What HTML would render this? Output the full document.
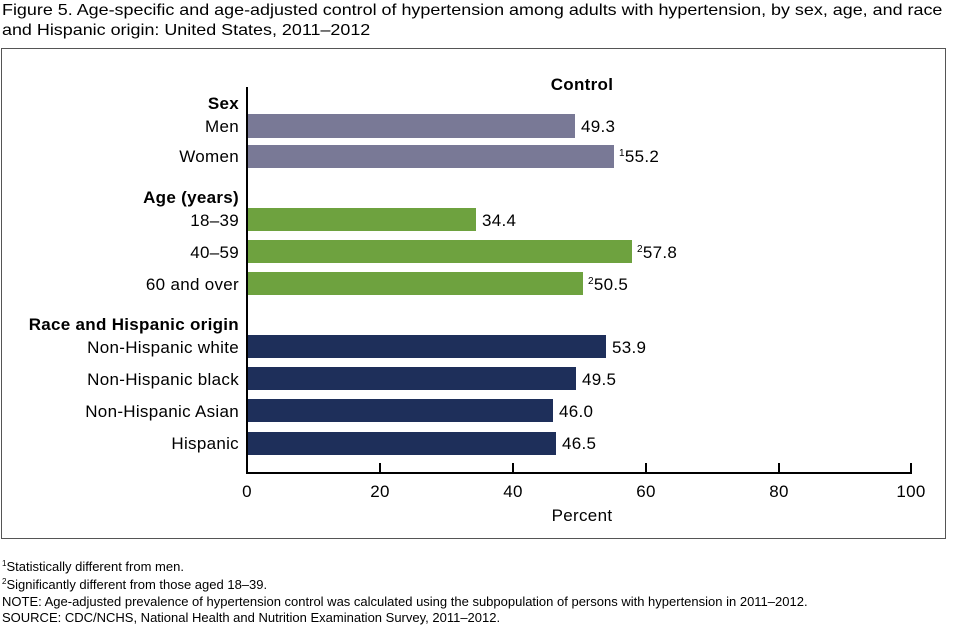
<!DOCTYPE html>
<html><head><style>
body{margin:0;width:960px;height:626px;background:#fff;font-family:"Liberation Sans",Arial,sans-serif;position:relative;overflow:hidden}
.t{position:absolute;white-space:nowrap;color:#000}
.s{font-size:8px;position:relative;top:-5px}
</style></head><body>
<div class="t" style="left:2px;top:1px;font-size:16px;line-height:20px;transform:scaleX(1.12);transform-origin:0 0">Figure 5. Age-specific and age-adjusted control of hypertension among adults with hypertension, by sex, age, and race<br>and Hispanic origin: United States, 2011–2012</div>
<svg width="960" height="626" style="position:absolute;left:0;top:0" font-family="Liberation Sans, Arial, sans-serif">
<rect x="1.5" y="48.5" width="944" height="490" fill="none" stroke="#555" stroke-width="1"/>
<g font-size="17" letter-spacing="0.3">
<text x="582" y="90" font-weight="bold" text-anchor="middle">Control</text>
<g text-anchor="end">
<text x="239" y="109" font-weight="bold">Sex</text>
<text x="239" y="132">Men</text>
<text x="239" y="162">Women</text>
<text x="239" y="203" font-weight="bold">Age (years)</text>
<text x="239" y="226">18–39</text>
<text x="239" y="258">40–59</text>
<text x="239" y="290">60 and over</text>
<text x="239" y="330" font-weight="bold">Race and Hispanic origin</text>
<text x="239" y="353">Non-Hispanic white</text>
<text x="239" y="385">Non-Hispanic black</text>
<text x="239" y="417">Non-Hispanic Asian</text>
<text x="239" y="449">Hispanic</text>
</g>
</g>
<g>
<rect x="248" y="114" width="327" height="24" fill="#797996"/>
<rect x="248" y="145" width="366" height="23" fill="#797996"/>
<rect x="248" y="208" width="228" height="23" fill="#6ea23f"/>
<rect x="248" y="240" width="384" height="23" fill="#6ea23f"/>
<rect x="248" y="272" width="335" height="23" fill="#6ea23f"/>
<rect x="248" y="335" width="358" height="23" fill="#1e2f5a"/>
<rect x="248" y="367" width="328" height="23" fill="#1e2f5a"/>
<rect x="248" y="399" width="305" height="23" fill="#1e2f5a"/>
<rect x="248" y="432" width="308" height="23" fill="#1e2f5a"/>
</g>
<g font-size="17" letter-spacing="0.3">
<text x="581" y="132">49.3</text>
<text x="619" y="162"><tspan font-size="10" dy="-6">1</tspan><tspan dy="6">55.2</tspan></text>
<text x="482" y="226">34.4</text>
<text x="637" y="258"><tspan font-size="10" dy="-6">2</tspan><tspan dy="6">57.8</tspan></text>
<text x="588" y="290"><tspan font-size="10" dy="-6">2</tspan><tspan dy="6">50.5</tspan></text>
<text x="612" y="353">53.9</text>
<text x="582" y="385">49.5</text>
<text x="559" y="417">46.0</text>
<text x="562" y="449">46.5</text>
</g>
<line x1="247" y1="87" x2="247" y2="474" stroke="#000" stroke-width="2"/>
<line x1="246" y1="473" x2="912" y2="473" stroke="#000" stroke-width="2"/>
<g stroke="#000" stroke-width="2">
<line x1="380" y1="463" x2="380" y2="473"/><line x1="513" y1="463" x2="513" y2="473"/>
<line x1="646" y1="463" x2="646" y2="473"/><line x1="779" y1="463" x2="779" y2="473"/>
<line x1="911" y1="463" x2="911" y2="473"/>
</g>
<g font-size="17" text-anchor="middle" letter-spacing="0.3">
<text x="247" y="497">0</text><text x="380" y="497">20</text><text x="513" y="497">40</text>
<text x="646" y="497">60</text><text x="779" y="497">80</text><text x="911" y="497">100</text>
<text x="582" y="521">Percent</text>
</g>
</svg>
<div class="t" style="left:2px;top:559px;font-size:13px;line-height:15.7px"><span class="s">1</span>Statistically different from men.<br><span class="s">2</span>Significantly different from those aged 18–39.<br>NOTE: Age-adjusted prevalence of hypertension control was calculated using the subpopulation of persons with hypertension in 2011–2012.<br>SOURCE: CDC/NCHS, National Health and Nutrition Examination Survey, 2011–2012.</div>
</body></html>
